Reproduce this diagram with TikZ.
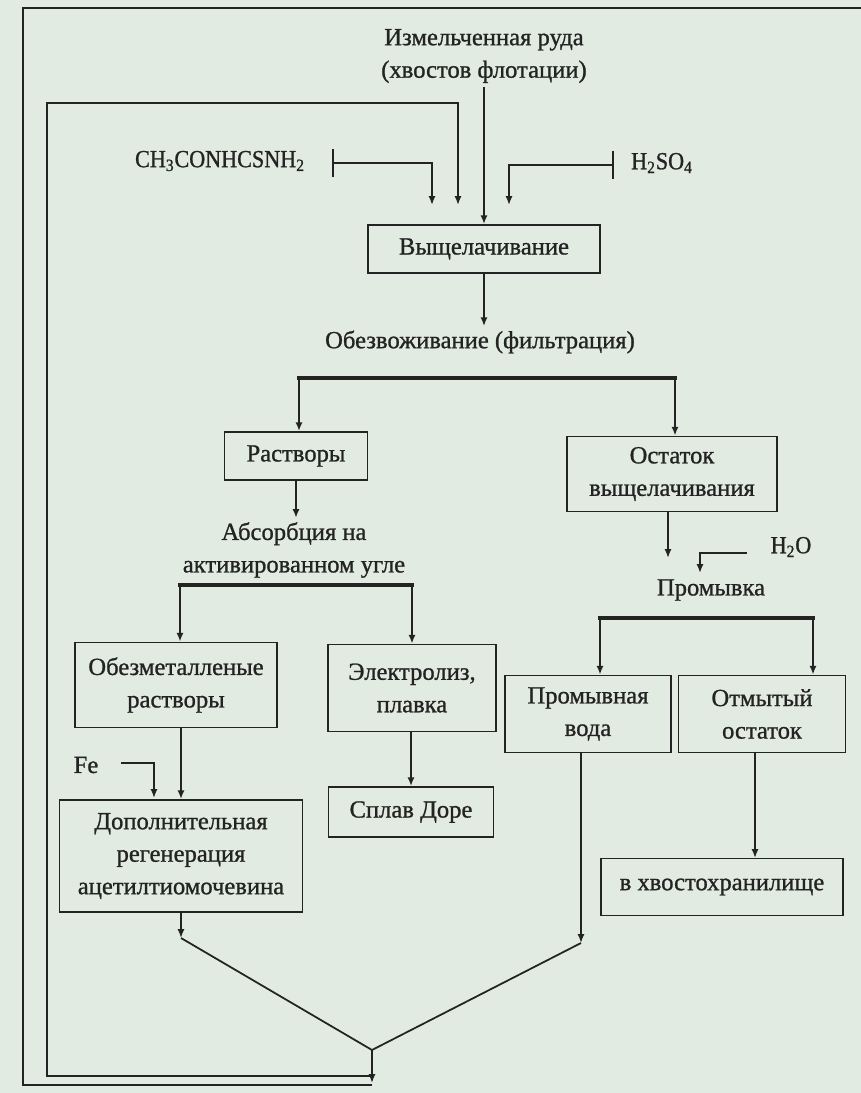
\documentclass[tikz,border=0pt]{standalone}
\usepackage{fontspec}
\setmainfont{Liberation Serif}[FakeBold=1]
\usetikzlibrary{arrows.meta}
\definecolor{paper}{RGB}{226,235,225}
\definecolor{ink}{RGB}{35,35,35}

\begin{document}
\begin{tikzpicture}[x=0.02cm, y=-0.02cm, line width=1pt,
  font=\fontsize{14}{18.5}\selectfont,
  >={Latex[length=5pt,width=4pt]},
  box/.style={draw=ink, text=ink, align=center, inner sep=2pt},
  lbl/.style={text=ink, align=center, inner sep=2pt},
  formula/.style={lbl, font=\fontsize{14}{18.5}\selectfont\addfontfeature{FakeStretch=0.9}},
  bus/.style={draw=ink, line width=2.6pt, line cap=rect},
  tee/.style={draw=ink, {Bar[width=16pt]}->}]
  \fill[paper] (0, 0) rectangle (861, 1093);
  \useasboundingbox (0, 0) rectangle (861, 1093);

  \node[lbl] (ore) at (484, 56) {Измельченная руда\\(хвостов флотации)};
  \node[formula] (reag) at (220, 161) {CH\textsubscript{3}CONHCSNH\textsubscript{2}};
  \node[formula] (acid) at (662, 163) {H\textsubscript{2}SO\textsubscript{4}};
  \node[box, minimum width=4.64cm, minimum height=0.96cm] (leach) at (484, 249) {Выщелачивание};
  \node[lbl] (filt) at (480, 342) {Обезвоживание (фильтрация)};

  \node[box, minimum width=2.86cm, minimum height=0.96cm] (sol) at (296, 456) {Растворы};
  \node[box, minimum width=4.2cm, minimum height=1.5cm] (resid) at (672, 474) {Остаток\\выщелачивания};
  \node[lbl] (absorb) at (294, 550) {Абсорбция на\\активированном угле};
  \node[formula] (water) at (791, 547) {H\textsubscript{2}O};
  \node[lbl] (wash) at (711, 590) {Промывка};

  \node[box, minimum width=4.04cm, minimum height=1.7cm] (barren) at (176, 685) {Обезметалленые\\растворы};
  \node[box, minimum width=3.36cm, minimum height=1.74cm] (electro) at (412, 688) {Электролиз,\\плавка};
  \node[box, minimum width=3.3cm, minimum height=1cm] (dore) at (411, 812) {Сплав Доре};
  \node[lbl] (fe) at (86, 765) {Fe};
  \node[box, minimum width=4.86cm, minimum height=2.24cm] (regen) at (181, 856) {Дополнительная\\регенерация\\ацетилтиомочевина};
  \node[box, minimum width=3.32cm, minimum height=1.54cm] (washw) at (588, 714) {Промывная\\вода};
  \node[box, minimum width=3.34cm, minimum height=1.54cm] (washed) at (762, 714) {Отмытый\\остаток};
  \node[box, minimum width=4.84cm, minimum height=1.14cm] (tails) at (722, 887) {в хвостохранилище};

  \coordinate (inA) at (432, 205);
  \coordinate (inB) at (458, 205);
  \coordinate (inC) at (509, 205);
  \coordinate (reagbar) at (332, 163);
  \coordinate (acidbar) at (614, 165);
  \coordinate (busL) at (299, 378);
  \coordinate (busR) at (675, 378);
  \coordinate (absL) at (180, 585);
  \coordinate (absR) at (412, 585);
  \coordinate (washL) at (600, 618);
  \coordinate (washR) at (813, 618);
  \coordinate (washin) at (668, 558);
  \coordinate (waterst) at (747, 553);
  \coordinate (waterin) at (700, 573);
  \coordinate (fest) at (121, 763);
  \coordinate (fein) at (154, 798);
  \coordinate (tailin) at (755, 858);
  \coordinate (vL) at (181, 938);
  \coordinate (vR) at (581, 943);
  \coordinate (merge) at (372, 1050);
  \coordinate (sink) at (372, 1083);
  \coordinate (retI) at (372, 1076);
  \coordinate (retO) at (372, 1085);
  \coordinate (outend) at (861, 8);

  \begin{scope}[draw=ink]
  \draw[->] (ore) -- (leach);
  \draw[tee] (reagbar) -| (inA);
  \draw[tee] (acidbar) -| (inC);
  \draw[->] (retI) -| (47, 103) -| (inB);
  \draw (retO) -| (23, 8) -- (outend);
  \draw[->] (leach.south) -- (leach.south |- filt.north);

  \draw[bus] (busL) -- (busR);
  \draw[->] (busL) -- (busL |- sol.north);
  \draw[->] (busR) -- (busR |- resid.north);
  \draw[->] (sol.south) -- (sol.south |- absorb.north);
  \draw[bus] (absL) -- (absR);
  \draw[->] (absL) -- (absL |- barren.north);
  \draw[->] (absR) -- (absR |- electro.north);
  \draw[->] (electro.south -| dore) -- (dore);
  \draw[->] (barren.south -| regen) -- (regen);
  \draw[->] (fest) -| (fein);
  \draw[->] (regen) -- (vL);
  \draw (vL) -- (merge) -- (vR);
  \draw[->] (washw.south -| vR) -- (vR);
  \draw[->] (merge) -- (sink);

  \draw[->] (resid.south -| washin) -- (washin);
  \draw[->] (waterst) -| (waterin);
  \draw[bus] (washL) -- (washR);
  \draw[->] (washL) -- (washL |- washw.north);
  \draw[->] (washR) -- (washR |- washed.north);
  \draw[->] (washed.south -| tailin) -- (tailin);
  \end{scope}
\end{tikzpicture}
\end{document}
